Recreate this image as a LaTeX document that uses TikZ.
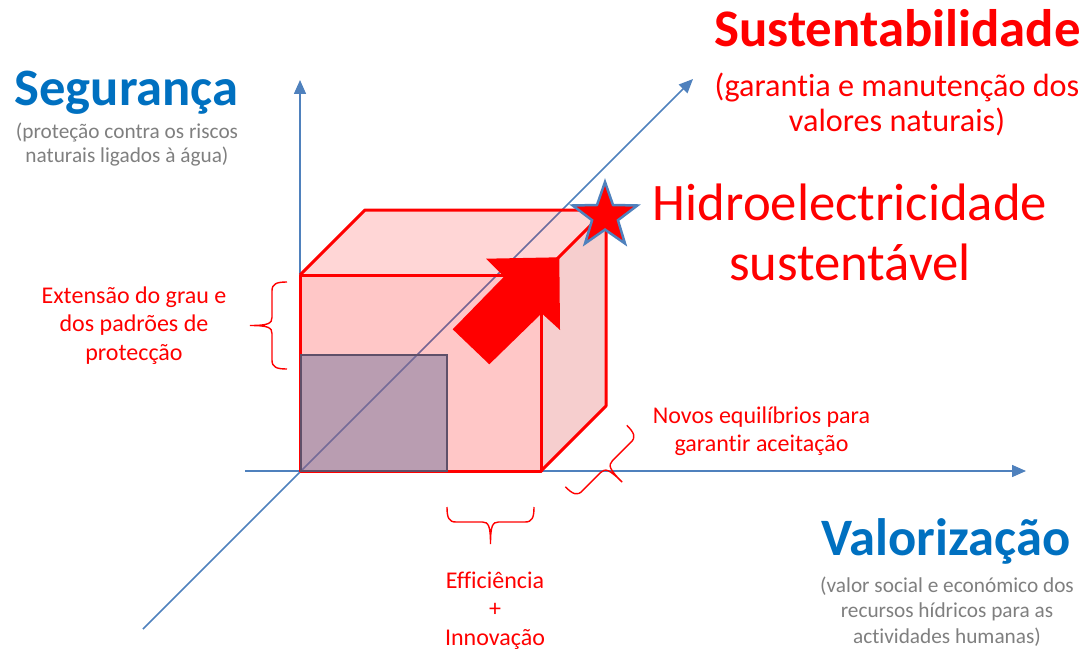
\documentclass[tikz,border=0pt]{standalone}
\usepackage{fontspec}
\setmainfont{Carlito}[Ligatures=NoCommon]
\usetikzlibrary{arrows.meta,shapes.geometric}
\definecolor{axisblue}{RGB}{79,129,189}
\definecolor{titleblue}{RGB}{0,112,192}
\definecolor{subgrey}{RGB}{127,127,127}
\definecolor{purpfill}{RGB}{117,115,157}
\definecolor{purpedge}{RGB}{95,80,105}
\definecolor{sideface}{RGB}{220,60,60}
\newcommand{\bracepath}{(-43.5,0) .. controls (-43.5,11) and (-41.5,15) .. (-34.5,15) -- (-8,15) .. controls (-2,15) and (0,19) .. (0,37) .. controls (0,19) and (2,15) .. (8,15) -- (34.5,15) .. controls (41.5,15) and (43.5,11) .. (43.5,0)}
\begin{document}
\begin{tikzpicture}[x=1pt,y=-1pt,
  axis/.style={draw=axisblue, line width=1.5pt, -{Triangle[length=14pt,width=12pt]}},
  edge/.style={draw=red, line width=3pt, line join=round},
  bracestyle/.style={draw=red, line width=1.4pt},
  redlabel/.style={text=red, align=center, inner sep=0pt, anchor=base, font=\fontsize{24}{28.5}\selectfont},
  greylabel/.style={text=subgrey, align=center, inner sep=0pt, anchor=base, font=\fontsize{21.3}{24.5}\selectfont},
  bluetitle/.style={text=titleblue, inner sep=0pt, anchor=base, font=\fontsize{52.6}{60}\selectfont\bfseries}]
\useasboundingbox (0,0) rectangle (1086,650);
% axes
\coordinate (O) at (300,471);
\coordinate (ytip) at (300,80);
\coordinate (xstart) at (245,471);
\coordinate (xtip) at (1026,471);
\coordinate (zstart) at (143,629);
\coordinate (ztip) at (693,79);
\draw[axis] (O) -- (ytip);
\draw[axis] (xstart) -- (xtip);
\draw[axis] (zstart) -- (ztip);
% cube corners
\coordinate (fbl) at (300,471);
\coordinate (fbr) at (541,471);
\coordinate (ftr) at (541,275);
\coordinate (ftl) at (300,275);
\coordinate (btl) at (365,210);
\coordinate (btr) at (606,210);
\coordinate (bbr) at (606,406);
% faces
\fill[red, fill opacity=0.22] (fbl) -- (fbr) -- (ftr) -- (ftl) -- cycle;
\fill[red, fill opacity=0.16] (ftl) -- (btl) -- (btr) -- (ftr) -- cycle;
\fill[sideface, fill opacity=0.25] (ftr) -- (btr) -- (bbr) -- (fbr) -- cycle;
% edges
\draw[edge] (fbl) -- (fbr) -- (ftr) -- (ftl) -- cycle;
\draw[edge] (ftl) -- (btl) -- (btr) -- (ftr);
\draw[edge] (btr) -- (bbr) -- (fbr);
% purple rectangle
\draw[draw=purpedge, line width=2pt, fill=purpfill, fill opacity=0.5] (301,355) rectangle (447,471);
% big arrow
\fill[red] (559.3,257.3) -- (486,258.7) -- (504,276.7) -- (452.7,329.3) -- (489.3,364.3) -- (541.7,313.3) -- (560,330) -- cycle;
% star
\node[star, star points=5, star point ratio=2.5, minimum size=68pt, inner sep=0pt, fill=red, draw=axisblue, line width=2.5pt] (star) at (605,216) {};
% braces
\begin{scope}[shift={(287,325.5)}, rotate=-90]
\draw[bracestyle] \bracepath;
\end{scope}
\begin{scope}[shift={(490.5,507)}]
\draw[bracestyle] \bracepath;
\end{scope}
\begin{scope}[shift={(596,456)}, rotate=45]
\draw[bracestyle] \bracepath;
\end{scope}
% texts
\node[bluetitle] (seg) at (126.5,106) {Segurança};
\node[greylabel] (segsub) at (127,162.7) {(proteção contra os riscos\\naturais ligados à água)};
\node[text=red, inner sep=0pt, anchor=base, font=\fontsize{52.8}{60}\selectfont\bfseries] (sust) at (897.5,46.7) {Sustentabilidade};
\node[text=red, align=center, inner sep=0pt, anchor=base, font=\fontsize{32.2}{35}\selectfont] (sustsub) at (897,131.7) {(garantia e manutenção dos\\valores naturais)};
\node[text=red, align=center, inner sep=0pt, anchor=base, font=\fontsize{52.7}{60}\selectfont] (hidro) at (850,280) {Hidroelectricidade\\sustentável};
\node[redlabel] (ext) at (134,360) {Extensão do grau e\\dos padrões de\\protecção};
\node[redlabel, font=\fontsize{24}{28}\selectfont] (novos) at (761.5,451) {Novos equilíbrios para\\garantir aceitação};
\node[redlabel] (eff) at (495,645) {Efficiência\\+\\Innovação};
\node[bluetitle] (val) at (946,555) {Valorização};
\node[greylabel, font=\fontsize{21.3}{25.5}\selectfont] (valsub) at (947,643) {(valor social e económico dos\\recursos hídricos para as\\actividades humanas)};
\end{tikzpicture}
\end{document}
